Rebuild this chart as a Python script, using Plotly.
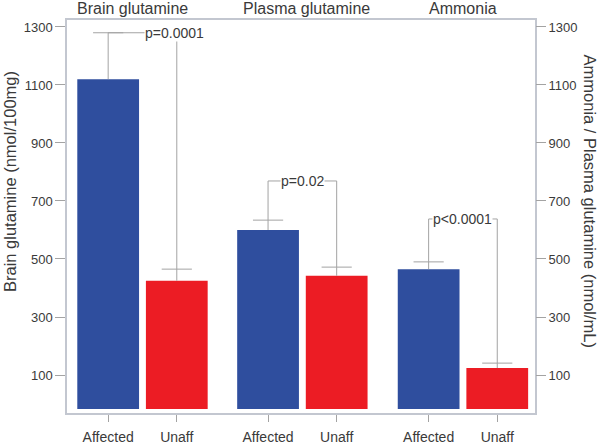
import plotly.graph_objects as go

# ---- data ----
groups = ["Brain glutamine", "Plasma glutamine", "Ammonia"]
bar_labels = ["Affected", "Unaff", "Affected", "Unaff", "Affected", "Unaff"]
means = [1120, 425, 600, 442, 465, 124]
err_up = [160, 40, 34, 30, 25, 17]
bar_colors = ["#2f4e9e", "#ec1c24", "#2f4e9e", "#ec1c24", "#2f4e9e", "#ec1c24"]
y_ticks = [100, 300, 500, 700, 900, 1100, 1300]
# significance brackets: (left bar index, right bar index, bracket height, label)
brackets = [(0, 1, 1280, "p=0.0001"), (2, 3, 769, "p=0.02"), (4, 5, 638, "p<0.0001")]

# ---- layout constants ----
x_pos = [0, 1, 2.33, 3.33, 4.67, 5.67]
BASE = -17
Y_RANGE = [-31, 1324]
X_RANGE = [-0.6, 6.22]
CAP = 0.22
FONT = "Liberation Sans, Arial, sans-serif"
TXT = "#3a3a3a"
LINE = "#a3a3a3"
FRAME = "#c3c7d0"

fig = go.Figure()
fig.add_trace(go.Bar(
    x=x_pos, y=[m - BASE for m in means], base=BASE, width=0.9,
    marker=dict(color=bar_colors, line=dict(width=0)), showlegend=False))

# whiskers (upper only)
wx, wy = [], []
for xp, m, e in zip(x_pos, means, err_up):
    wx += [xp, xp, None, xp - CAP, xp + CAP, None]
    wy += [m, m + e, None, m + e, m + e, None]
fig.add_trace(go.Scatter(x=wx, y=wy, mode="lines", line=dict(color=LINE, width=1),
                         showlegend=False, hoverinfo="skip"))

# brackets
bx, by = [], []
for i, j, h, lab in brackets:
    bx += [x_pos[i], x_pos[i], x_pos[j], x_pos[j], None]
    by += [means[i] + err_up[i], h, h, means[j] + err_up[j], None]
fig.add_trace(go.Scatter(x=bx, y=by, mode="lines", line=dict(color=LINE, width=1),
                         showlegend=False, hoverinfo="skip"))

# invisible trace on the right axis
fig.add_trace(go.Scatter(x=[x_pos[0]], y=[means[0]], yaxis="y2", mode="markers",
                         marker=dict(opacity=0), showlegend=False, hoverinfo="skip"))

text_x = [0.96, None, None]
for k, (i, j, h, lab) in enumerate(brackets):
    xt = text_x[k] if text_x[k] is not None else (x_pos[i] + x_pos[j]) / 2
    fig.add_annotation(x=xt, y=h, text=lab, showarrow=False, bgcolor="white",
                       borderpad=0, font=dict(size=14, color=TXT, family=FONT))

title_shift = [-10, 4, 0]
for g, (a, b), s in zip(groups, [(0, 1), (2, 3), (4, 5)], title_shift):
    fig.add_annotation(x=(x_pos[a] + x_pos[b]) / 2, y=1.0, yref="paper", yanchor="bottom",
                       yshift=1, xshift=s, text=g, showarrow=False,
                       font=dict(size=16, color=TXT, family=FONT))

fig.add_annotation(x=-0.122, xref="paper", xanchor="center", y=0.59, yref="paper",
                   yanchor="middle", text="Brain glutamine (nmol/100mg)",
                   textangle=-90, showarrow=False, font=dict(size=16.5, color=TXT, family=FONT))
fig.add_annotation(x=1.118, xref="paper", xanchor="center", y=0.54, yref="paper",
                   yanchor="middle", text="Ammonia / Plasma glutamine (nmol/mL)",
                   textangle=90, showarrow=False, font=dict(size=16.5, color=TXT, family=FONT))

fig.update_layout(
    width=600, height=444,
    margin=dict(l=67, r=65, t=20, b=31, autoexpand=False),
    paper_bgcolor="white", plot_bgcolor="white",
    font=dict(family=FONT, color=TXT),
    xaxis=dict(range=X_RANGE, tickvals=x_pos, ticktext=bar_labels, ticks="outside",
               ticklen=7, tickcolor=LINE, showline=True, mirror=True, linecolor=FRAME,
               linewidth=1.5, showgrid=False, zeroline=False, ticklabelstandoff=3,
               tickfont=dict(size=14, color=TXT), automargin=False),
    yaxis=dict(range=Y_RANGE, tickvals=y_ticks, ticks="outside", ticklen=10, tickcolor=LINE,
               showline=True, mirror=True, linecolor=FRAME, linewidth=1.5, showgrid=False,
               zeroline=False, tickfont=dict(size=13, color=TXT), automargin=False),
    yaxis2=dict(range=Y_RANGE, tickvals=y_ticks, overlaying="y", side="right", ticks="outside",
                ticklen=10, tickcolor=LINE, showline=False, showgrid=False, zeroline=False,
                tickfont=dict(size=13, color=TXT), automargin=False),
)

fig.write_html("out.html", config={"displayModeBar": False},
               post_script="document.body.style.margin='0';document.body.style.overflow='hidden';")
